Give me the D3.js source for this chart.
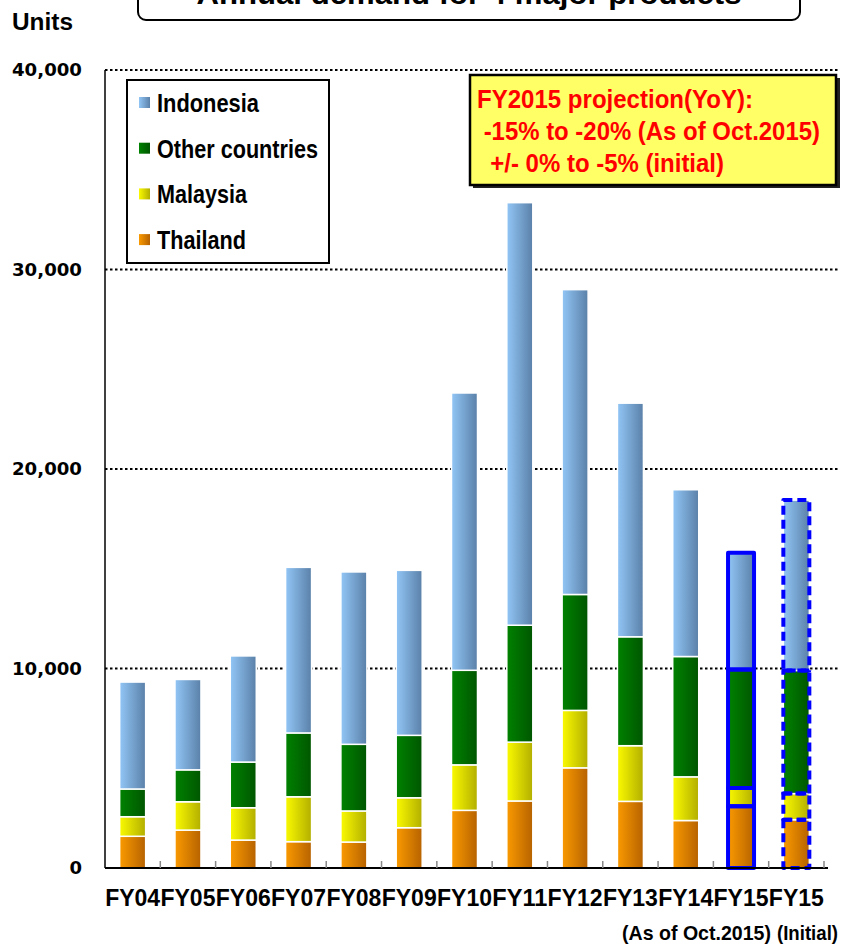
<!DOCTYPE html>
<html>
<head>
<meta charset="utf-8">
<script src="https://cdn.jsdelivr.net/npm/d3@7"></script>
<style>
  html, body { margin: 0; padding: 0; background: #fff; }
  svg { display: block; }
  text { font-family: "Liberation Sans", Arial, sans-serif; font-weight: bold; }
</style>
</head>
<body>
<svg id="chart" width="845" height="945"></svg>
<script>
// Annual demand (units) for 4 major products, by market
const categories = ["FY04", "FY05", "FY06", "FY07", "FY08", "FY09", "FY10", "FY11", "FY12", "FY13", "FY14", "FY15 Oct", "FY15 Initial"];
const tickLabels = ["FY04", "FY05", "FY06", "FY07", "FY08", "FY09", "FY10", "FY11", "FY12", "FY13", "FY14", "FY15", "FY15"];
const subLabels = ["(As of Oct.2015)", "(Initial)"];
const projection = [null, null, null, null, null, null, null, null, null, null, null, "oct", "initial"];

const thailand  = [1590, 1900, 1400, 1320, 1300, 2020, 2890, 3360, 5020, 3340, 2380, 3090, 2420];
const malaysia  = [ 980, 1420, 1620, 2250, 1560, 1500, 2280, 2950, 2880, 2790, 2190,  920, 1310];
const others    = [1390, 1600, 2290, 3200, 3340, 3130, 4740, 5860, 5810, 5460, 6030, 5940, 6170];
const indonesia = [5360, 4530, 5320, 8300, 8640, 8270, 13900, 21180, 15280, 11710, 8360, 5850, 8540];

const seriesNames = ["Thailand", "Malaysia", "Other countries", "Indonesia"];
const yTicks = [0, 10000, 20000, 30000, 40000];

const noteLines = ["FY2015 projection(YoY):", " -15% to -20% (As of Oct.2015)", "  +/- 0% to -5% (initial)"];
const titleText = "Annual demand  for 4 major products";

const rows = categories.map((c, i) => ({
  key: c,
  "Thailand": thailand[i],
  "Malaysia": malaysia[i],
  "Other countries": others[i],
  "Indonesia": indonesia[i]
}));

const svg = d3.select("#chart");
const defs = svg.append("defs");

// horizontal shading for each series
const shades = {
  "Indonesia":       ["#92c6f6", "#5a80a8"],
  "Other countries": ["#008200", "#005600"],
  "Malaysia":        ["#fafa00", "#b2ae00"],
  "Thailand":        ["#fa9a00", "#b66200"]
};
const gradId = name => "g-" + name.replace(/\s+/g, "-");
Object.entries(shades).forEach(([name, [c0, c1]]) => {
  const g = defs.append("linearGradient").attr("id", gradId(name))
    .attr("x1", "0%").attr("x2", "100%").attr("y1", "0%").attr("y2", "0%");
  g.append("stop").attr("offset", "0%").attr("stop-color", c0);
  g.append("stop").attr("offset", "100%").attr("stop-color", c1);
});

const x = d3.scaleBand().domain(categories).range([105, 824]).paddingInner(0.53).paddingOuter(0.265);
const y = d3.scaleLinear().domain([0, 40000]).range([868, 70]);

// Title box (partly above the page edge)
svg.append("rect").attr("x", 138).attr("y", -20).attr("width", 662).attr("height", 40)
  .attr("rx", 8).attr("fill", "#fff").attr("stroke", "#000").attr("stroke-width", 2);
svg.append("text").attr("x", 469).attr("y", 4).attr("text-anchor", "middle")
  .attr("font-size", 30).attr("textLength", 545).attr("lengthAdjust", "spacingAndGlyphs")
  .text(titleText);

svg.append("text").attr("x", 12).attr("y", 30).attr("font-size", 23)
  .attr("textLength", 61).attr("lengthAdjust", "spacingAndGlyphs").text("Units");

// Dotted gridlines
svg.append("g").selectAll("line").data(yTicks.filter(d => d > 0)).join("line")
  .attr("x1", 105).attr("x2", 840)
  .attr("y1", d => y(d)).attr("y2", d => y(d))
  .attr("stroke", "#000").attr("stroke-width", 2).attr("stroke-dasharray", "2.5,2.5");

// Y axis labels
const yAxis = d3.axisLeft(y).tickValues(yTicks).tickSize(0).tickPadding(23).tickFormat(d3.format(","));
const yg = svg.append("g").attr("transform", "translate(105,0)").call(yAxis);
yg.select(".domain").remove();
yg.selectAll("text")
  .style("font-family", '"DejaVu Sans", Verdana, sans-serif')
  .style("font-weight", "bold").attr("font-size", 18).attr("fill", "#000")
  .attr("textLength", d => d > 0 ? 70 : null).attr("lengthAdjust", "spacingAndGlyphs");

// Stacked bars
const stack = d3.stack().keys(seriesNames);
const layers = stack(rows);

const barGroup = svg.append("g");
layers.forEach(layer => {
  barGroup.append("g").selectAll("rect").data(layer).join("rect")
    .attr("x", d => x(d.data.key))
    .attr("width", x.bandwidth())
    .attr("y", d => y(d[1]))
    .attr("height", d => y(d[0]) - y(d[1]))
    .attr("fill", `url(#${gradId(layer.key)})`)
    .attr("stroke", "#fff").attr("stroke-width", 1.5);
});

// Blue outlines on the FY2015 projections
layers.forEach(layer => {
  barGroup.append("g").selectAll("rect")
    .data(layer.filter((d, i) => projection[i] !== null))
    .join("rect")
    .attr("x", d => x(d.data.key))
    .attr("width", x.bandwidth())
    .attr("y", d => y(d[1]))
    .attr("height", d => y(d[0]) - y(d[1]))
    .attr("fill", "none")
    .attr("stroke", "#0000ff").attr("stroke-width", 4)
    .attr("stroke-linejoin", "round")
    .attr("stroke-dasharray", d => projection[categories.indexOf(d.data.key)] === "initial" ? "9,5" : null);
});

// Axes lines and category ticks
svg.append("line").attr("x1", 105).attr("x2", 105).attr("y1", 70).attr("y2", 868)
  .attr("stroke", "#000").attr("stroke-width", 1.5);
svg.append("line").attr("x1", 105).attr("x2", 828).attr("y1", 868).attr("y2", 868)
  .attr("stroke", "#000").attr("stroke-width", 2);
const step = x.step();
svg.append("g").selectAll("line").data(categories).join("line")
  .attr("x1", d => x(d) - x.paddingOuter() * step + step)
  .attr("x2", d => x(d) - x.paddingOuter() * step + step)
  .attr("y1", 861).attr("y2", 868)
  .attr("stroke", "#888").attr("stroke-width", 1.5);

// Category labels
svg.append("g").selectAll("text").data(categories).join("text")
  .attr("x", d => x(d) + x.bandwidth() / 2)
  .attr("y", 906).attr("text-anchor", "middle").attr("font-size", 24)
  .attr("textLength", 55).attr("lengthAdjust", "spacingAndGlyphs")
  .text((d, i) => tickLabels[i]);

svg.append("text").attr("x", 771).attr("y", 940).attr("text-anchor", "end").attr("font-size", 21)
  .attr("textLength", 149).attr("lengthAdjust", "spacingAndGlyphs").text(subLabels[0]);
svg.append("text").attr("x", 777).attr("y", 940).attr("font-size", 21)
  .attr("textLength", 61).attr("lengthAdjust", "spacingAndGlyphs").text(subLabels[1]);

// Legend
const legend = svg.append("g");
legend.append("rect").attr("x", 127).attr("y", 80).attr("width", 202).attr("height", 183)
  .attr("fill", "#fff").attr("stroke", "#000").attr("stroke-width", 2);
const legendOrder = seriesNames.slice().reverse();
const legendWidths = { "Indonesia": 102, "Other countries": 161, "Malaysia": 90, "Thailand": 89 };
const li = legend.selectAll("g.item").data(legendOrder).join("g").attr("class", "item")
  .attr("transform", (d, i) => `translate(139,${103 + i * 45.7})`);
li.append("rect").attr("x", 0).attr("y", -6).attr("width", 11).attr("height", 11)
  .attr("fill", d => `url(#${gradId(d)})`);
li.append("text").attr("x", 18).attr("y", 9).attr("font-size", 25)
  .attr("textLength", d => legendWidths[d]).attr("lengthAdjust", "spacingAndGlyphs")
  .text(d => d);

// Projection note
const note = svg.append("g");
note.append("rect").attr("x", 473).attr("y", 78).attr("width", 367).attr("height", 110).attr("fill", "#222");
note.append("rect").attr("x", 470).attr("y", 75).attr("width", 366).attr("height", 110)
  .attr("fill", "#ffff66").attr("stroke", "#000").attr("stroke-width", 2.5);
const noteX = [477, 477, 477];
const noteY = [108, 140, 172];
const noteW = [276, 343, 247];
note.selectAll("text").data(noteLines).join("text")
  .attr("x", (d, i) => noteX[i]).attr("y", (d, i) => noteY[i])
  .attr("font-size", 25).attr("fill", "#ff0000").attr("xml:space", "preserve")
  .style("white-space", "pre")
  .attr("textLength", (d, i) => noteW[i]).attr("lengthAdjust", "spacingAndGlyphs")
  .text(d => d);
</script>
</body>
</html>
